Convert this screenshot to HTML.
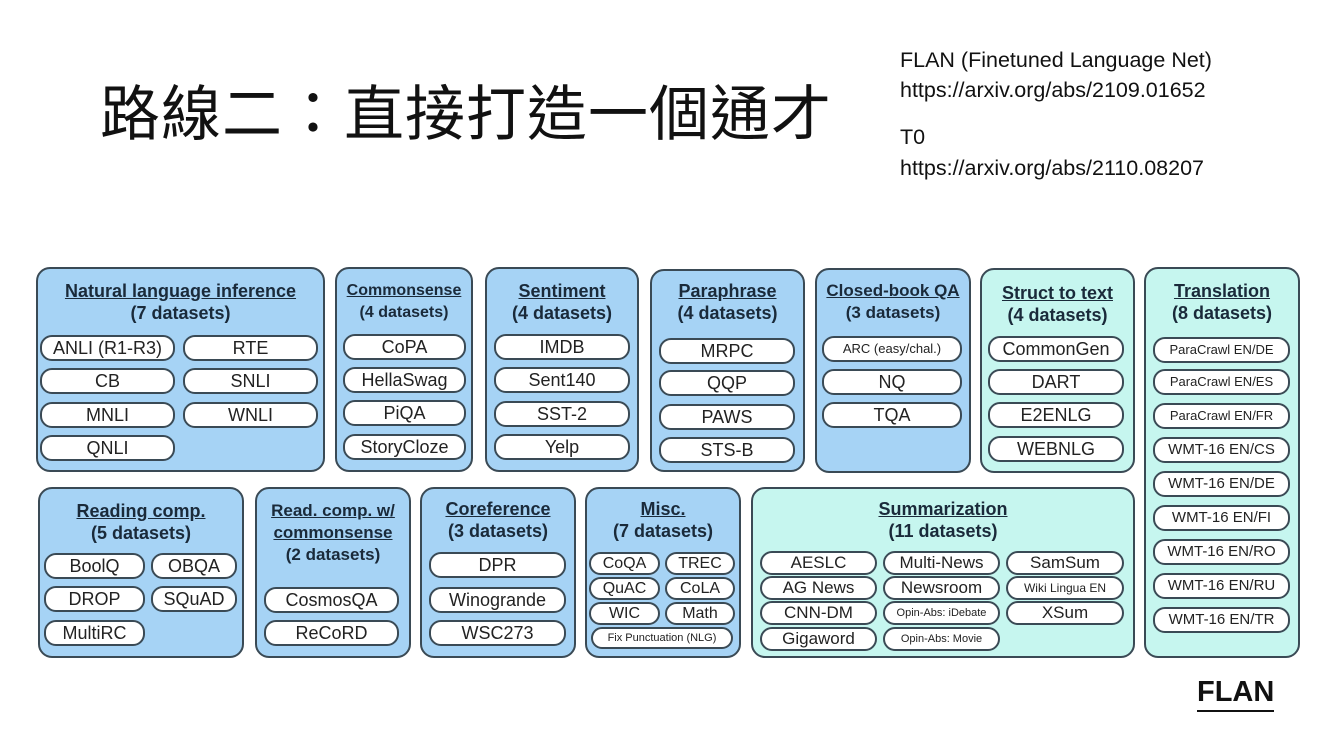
<!DOCTYPE html>
<html><head><meta charset="utf-8"><style>
body{margin:0;width:1334px;height:750px;background:#fff;position:relative;overflow:hidden;font-family:"Liberation Sans",Arial,sans-serif}
.b{position:absolute;background:#a6d3f5;border:2px solid #3a4a55;border-radius:14px;box-sizing:border-box}
.c{background:#c6f6ef}
.h{position:absolute;left:0;right:0;text-align:center;font-weight:bold;font-size:18px;line-height:22px;color:#1a2a3a}
.h u{text-decoration:underline}
.p{position:absolute;background:#fff;border:2px solid #3a4a55;border-radius:12px;box-sizing:border-box;text-align:center;font-size:18px;color:#222;white-space:nowrap;overflow:hidden}
.t{position:absolute;font-family:"Liberation Sans","Noto Sans CJK TC",sans-serif}
</style></head><body>
<div class="t" style="left:100px;top:66px;font-size:60px;color:#111;letter-spacing:1px;font-family:'Noto Sans CJK TC',sans-serif;font-weight:400">路線二：直接打造一個通才</div>
<div class="t" style="left:900px;top:45px;font-size:21.5px;line-height:30px;color:#111">FLAN (Finetuned Language Net)<br>https://arxiv.org/abs/2109.01652</div>
<div class="t" style="left:900px;top:122px;font-size:21.5px;line-height:31px;color:#111">T0<br>https://arxiv.org/abs/2110.08207</div>
<div class="t" style="left:1197px;top:674px;font-size:29px;font-weight:bold;color:#111;border-bottom:2px solid #111;line-height:36px">FLAN</div>

<!-- NLI -->
<div class="b" style="left:36px;top:267px;width:289px;height:205px"><div class="h" style="top:11px"><u>Natural language inference</u><br>(7 datasets)</div></div>
<div class="p" style="left:40px;top:335px;width:135px;height:26px;line-height:22px">ANLI (R1-R3)</div>
<div class="p" style="left:183px;top:335px;width:135px;height:26px;line-height:22px">RTE</div>
<div class="p" style="left:40px;top:368px;width:135px;height:26px;line-height:22px">CB</div>
<div class="p" style="left:183px;top:368px;width:135px;height:26px;line-height:22px">SNLI</div>
<div class="p" style="left:40px;top:402px;width:135px;height:26px;line-height:22px">MNLI</div>
<div class="p" style="left:183px;top:402px;width:135px;height:26px;line-height:22px">WNLI</div>
<div class="p" style="left:40px;top:435px;width:135px;height:26px;line-height:22px">QNLI</div>
<!-- Commonsense -->
<div class="b" style="left:335px;top:267px;width:138px;height:205px"><div class="h" style="top:11px;font-size:16px"><u>Commonsense</u><br>(4 datasets)</div></div>
<div class="p" style="left:343px;top:334px;width:123px;height:26px;line-height:22px">CoPA</div>
<div class="p" style="left:343px;top:367px;width:123px;height:26px;line-height:22px">HellaSwag</div>
<div class="p" style="left:343px;top:400px;width:123px;height:26px;line-height:22px">PiQA</div>
<div class="p" style="left:343px;top:434px;width:123px;height:26px;line-height:22px">StoryCloze</div>
<!-- Sentiment -->
<div class="b" style="left:485px;top:267px;width:154px;height:205px"><div class="h" style="top:11px"><u>Sentiment</u><br>(4 datasets)</div></div>
<div class="p" style="left:494px;top:334px;width:136px;height:26px;line-height:22px">IMDB</div>
<div class="p" style="left:494px;top:367px;width:136px;height:26px;line-height:22px">Sent140</div>
<div class="p" style="left:494px;top:401px;width:136px;height:26px;line-height:22px">SST-2</div>
<div class="p" style="left:494px;top:434px;width:136px;height:26px;line-height:22px">Yelp</div>
<!-- Paraphrase -->
<div class="b" style="left:650px;top:269px;width:155px;height:203px"><div class="h" style="top:9px"><u>Paraphrase</u><br>(4 datasets)</div></div>
<div class="p" style="left:659px;top:338px;width:136px;height:26px;line-height:22px">MRPC</div>
<div class="p" style="left:659px;top:370px;width:136px;height:26px;line-height:22px">QQP</div>
<div class="p" style="left:659px;top:404px;width:136px;height:26px;line-height:22px">PAWS</div>
<div class="p" style="left:659px;top:437px;width:136px;height:26px;line-height:22px">STS-B</div>
<!-- Closed-book -->
<div class="b" style="left:815px;top:268px;width:156px;height:205px"><div class="h" style="top:10px;font-size:17px"><u>Closed-book QA</u><br>(3 datasets)</div></div>
<div class="p" style="left:822px;top:336px;width:140px;height:26px;line-height:22px;font-size:13px">ARC (easy/chal.)</div>
<div class="p" style="left:822px;top:369px;width:140px;height:26px;line-height:22px">NQ</div>
<div class="p" style="left:822px;top:402px;width:140px;height:26px;line-height:22px">TQA</div>
<!-- Struct -->
<div class="b c" style="left:980px;top:268px;width:155px;height:205px"><div class="h" style="top:12px"><u>Struct to text</u><br>(4 datasets)</div></div>
<div class="p" style="left:988px;top:336px;width:136px;height:26px;line-height:22px">CommonGen</div>
<div class="p" style="left:988px;top:369px;width:136px;height:26px;line-height:22px">DART</div>
<div class="p" style="left:988px;top:402px;width:136px;height:26px;line-height:22px">E2ENLG</div>
<div class="p" style="left:988px;top:436px;width:136px;height:26px;line-height:22px">WEBNLG</div>
<!-- Translation -->
<div class="b c" style="left:1144px;top:267px;width:156px;height:391px"><div class="h" style="top:11px"><u>Translation</u><br>(8 datasets)</div></div>
<div class="p" style="left:1153px;top:337px;width:137px;height:26px;line-height:22px;font-size:13px">ParaCrawl EN/DE</div>
<div class="p" style="left:1153px;top:369px;width:137px;height:26px;line-height:22px;font-size:13px">ParaCrawl EN/ES</div>
<div class="p" style="left:1153px;top:403px;width:137px;height:26px;line-height:22px;font-size:13px">ParaCrawl EN/FR</div>
<div class="p" style="left:1153px;top:437px;width:137px;height:26px;line-height:22px;font-size:15px">WMT-16 EN/CS</div>
<div class="p" style="left:1153px;top:471px;width:137px;height:26px;line-height:22px;font-size:15px">WMT-16 EN/DE</div>
<div class="p" style="left:1153px;top:505px;width:137px;height:26px;line-height:22px;font-size:15px">WMT-16 EN/FI</div>
<div class="p" style="left:1153px;top:539px;width:137px;height:26px;line-height:22px;font-size:15px">WMT-16 EN/RO</div>
<div class="p" style="left:1153px;top:573px;width:137px;height:26px;line-height:22px;font-size:15px">WMT-16 EN/RU</div>
<div class="p" style="left:1153px;top:607px;width:137px;height:26px;line-height:22px;font-size:15px">WMT-16 EN/TR</div>
<!-- Reading -->
<div class="b" style="left:38px;top:487px;width:206px;height:171px"><div class="h" style="top:11px"><u>Reading comp.</u><br>(5 datasets)</div></div>
<div class="p" style="left:44px;top:553px;width:101px;height:26px;line-height:22px">BoolQ</div>
<div class="p" style="left:151px;top:553px;width:86px;height:26px;line-height:22px">OBQA</div>
<div class="p" style="left:44px;top:586px;width:101px;height:26px;line-height:22px">DROP</div>
<div class="p" style="left:151px;top:586px;width:86px;height:26px;line-height:22px">SQuAD</div>
<div class="p" style="left:44px;top:620px;width:101px;height:26px;line-height:22px">MultiRC</div>
<!-- Read comp w/ -->
<div class="b" style="left:255px;top:487px;width:156px;height:171px"><div class="h" style="top:11px;font-size:17px"><u>Read. comp. w/<br>commonsense</u><br>(2 datasets)</div></div>
<div class="p" style="left:264px;top:587px;width:135px;height:26px;line-height:22px">CosmosQA</div>
<div class="p" style="left:264px;top:620px;width:135px;height:26px;line-height:22px">ReCoRD</div>
<!-- Coref -->
<div class="b" style="left:420px;top:487px;width:156px;height:171px"><div class="h" style="top:9px"><u>Coreference</u><br>(3 datasets)</div></div>
<div class="p" style="left:429px;top:552px;width:137px;height:26px;line-height:22px">DPR</div>
<div class="p" style="left:429px;top:587px;width:137px;height:26px;line-height:22px">Winogrande</div>
<div class="p" style="left:429px;top:620px;width:137px;height:26px;line-height:22px">WSC273</div>
<!-- Misc -->
<div class="b" style="left:585px;top:487px;width:156px;height:171px"><div class="h" style="top:9px"><u>Misc.</u><br>(7 datasets)</div></div>
<div class="p" style="left:589px;top:552px;width:71px;height:23px;line-height:19px;font-size:16px">CoQA</div>
<div class="p" style="left:665px;top:552px;width:70px;height:23px;line-height:19px;font-size:16px">TREC</div>
<div class="p" style="left:589px;top:577px;width:71px;height:23px;line-height:19px;font-size:16px">QuAC</div>
<div class="p" style="left:665px;top:577px;width:70px;height:23px;line-height:19px;font-size:16px">CoLA</div>
<div class="p" style="left:589px;top:602px;width:71px;height:23px;line-height:19px;font-size:16px">WIC</div>
<div class="p" style="left:665px;top:602px;width:70px;height:23px;line-height:19px;font-size:16px">Math</div>
<div class="p" style="left:591px;top:627px;width:142px;height:22px;line-height:18px;font-size:11px">Fix Punctuation (NLG)</div>
<!-- Summarization -->
<div class="b c" style="left:751px;top:487px;width:384px;height:171px"><div class="h" style="top:9px"><u>Summarization</u><br>(11 datasets)</div></div>
<div class="p" style="left:760px;top:551px;width:117px;height:24px;line-height:20px;font-size:17px">AESLC</div>
<div class="p" style="left:883px;top:551px;width:117px;height:24px;line-height:20px;font-size:17px">Multi-News</div>
<div class="p" style="left:1006px;top:551px;width:118px;height:24px;line-height:20px;font-size:17px">SamSum</div>
<div class="p" style="left:760px;top:576px;width:117px;height:24px;line-height:20px;font-size:17px">AG News</div>
<div class="p" style="left:883px;top:576px;width:117px;height:24px;line-height:20px;font-size:17px">Newsroom</div>
<div class="p" style="left:1006px;top:576px;width:118px;height:24px;line-height:20px;font-size:12px">Wiki Lingua EN</div>
<div class="p" style="left:760px;top:601px;width:117px;height:24px;line-height:20px;font-size:17px">CNN-DM</div>
<div class="p" style="left:883px;top:601px;width:117px;height:24px;line-height:20px;font-size:11px">Opin-Abs: iDebate</div>
<div class="p" style="left:1006px;top:601px;width:118px;height:24px;line-height:20px;font-size:17px">XSum</div>
<div class="p" style="left:760px;top:627px;width:117px;height:24px;line-height:20px;font-size:17px">Gigaword</div>
<div class="p" style="left:883px;top:627px;width:117px;height:24px;line-height:20px;font-size:11px">Opin-Abs: Movie</div>
</body></html>
